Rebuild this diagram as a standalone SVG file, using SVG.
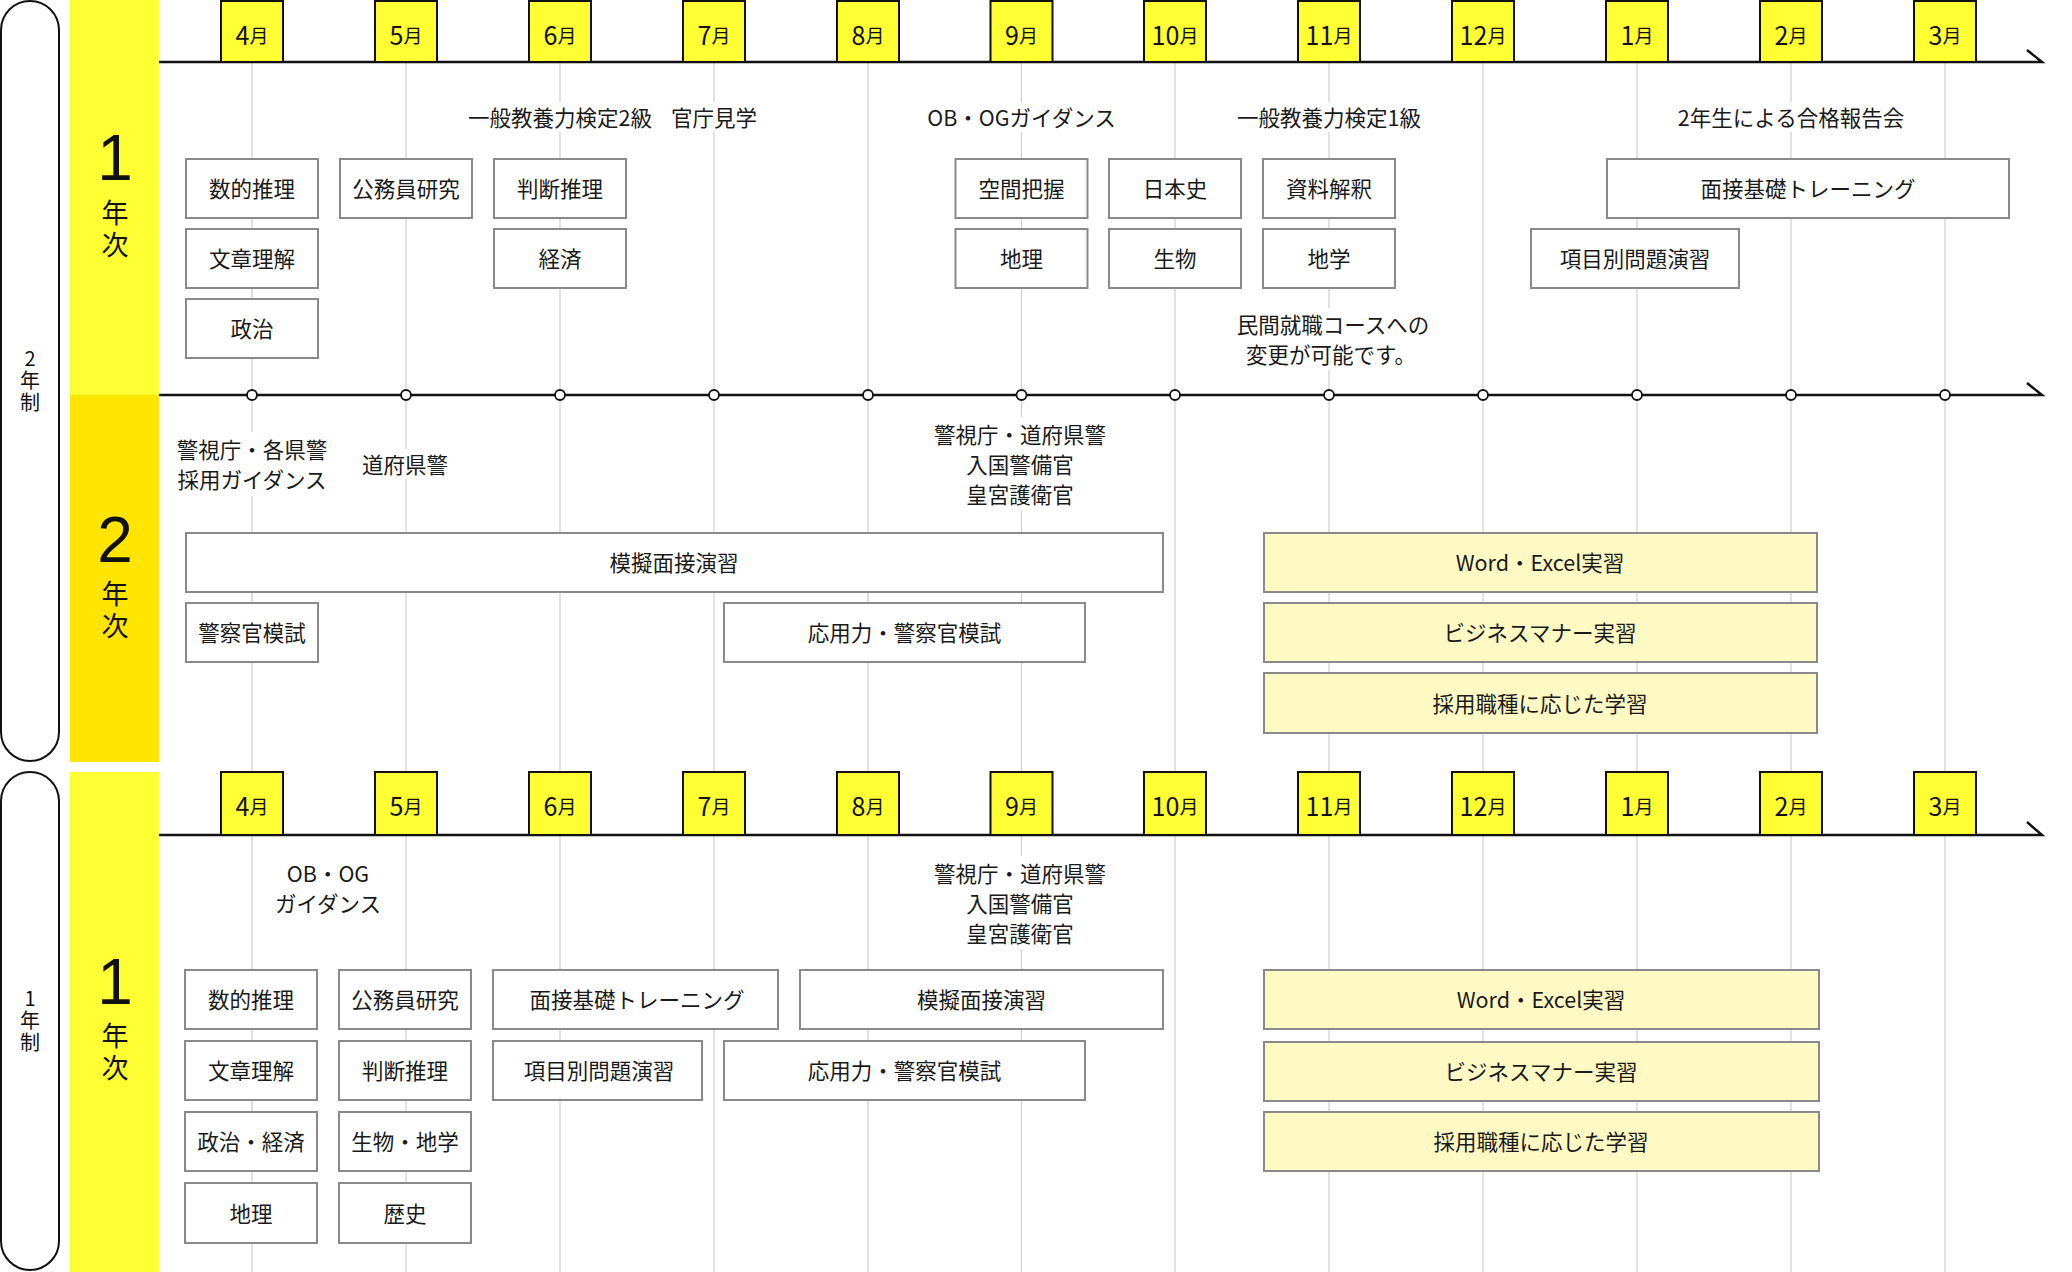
<svg xmlns="http://www.w3.org/2000/svg" width="2072" height="1272" viewBox="0 0 2072 1272">
<defs>
<style>
.grid{stroke:#cfcfcf;stroke-width:1.2}
.axis{stroke:#111;stroke-width:2.5;fill:none}
.mbox{fill:#FFFF33;stroke:#111;stroke-width:2}
.box{fill:#fff;stroke:#8a8a8a;stroke-width:2}
.pbox{fill:#FFFAC4;stroke:#8a8a8a;stroke-width:2}
.bg{fill:#fff}
.dot{fill:#fff;stroke:#111;stroke-width:1.8}
.pill{fill:#fff;stroke:#111;stroke-width:2}
.t{font-family:"Noto Sans CJK JP","Noto Sans CJK SC",sans-serif;font-size:21.5px;fill:#1a1a1a;text-anchor:middle;dominant-baseline:central}
.m{font-family:"Noto Sans CJK JP",sans-serif;fill:#111;text-anchor:middle;dominant-baseline:central}
.d{font-size:25px}
.u{font-size:19px}
.big{font-family:"Liberation Sans",Arial,sans-serif;font-size:64px;fill:#111;text-anchor:middle;dominant-baseline:central}
.yr{font-family:"Noto Sans CJK JP",sans-serif;font-size:27px;fill:#111;text-anchor:middle;writing-mode:vertical-rl;text-orientation:upright;letter-spacing:5px}
.pl{font-family:"Noto Sans CJK JP",sans-serif;font-size:20px;fill:#111;text-anchor:middle;writing-mode:vertical-rl;text-orientation:upright;letter-spacing:2px}
</style>
</defs>
<rect width="2072" height="1272" fill="#fff"/>

<!-- side pills and bands -->
<g id="pill-2nen">
<rect class="pill" x="1" y="1" width="58" height="760" rx="29" ry="29"/>
<text class="pl" x="30" y="381">2年制</text>
</g>
<g id="pill-1nen">
<rect class="pill" x="1" y="772" width="58" height="498" rx="29" ry="29"/>
<text class="pl" x="30" y="1021">1年制</text>
</g>
<g id="band-1">
<rect x="70" y="0" width="89" height="395" fill="#FFFF33"/>
<text class="big" x="115" y="158">1</text>
<text class="yr" x="115" y="231">年次</text>
</g>
<g id="band-2">
<rect x="70" y="395" width="89" height="367" fill="#FFE500"/>
<text class="big" x="115" y="540">2</text>
<text class="yr" x="115" y="612">年次</text>
</g>
<g id="band-3">
<rect x="70" y="772" width="89" height="500" fill="#FFFF33"/>
<text class="big" x="115" y="982">1</text>
<text class="yr" x="115" y="1054">年次</text>
</g>

<!-- gridlines -->
<g id="gridlines">
<line class="grid" x1="252" y1="0" x2="252" y2="1272"/>
<line class="grid" x1="406" y1="0" x2="406" y2="1272"/>
<line class="grid" x1="560" y1="0" x2="560" y2="1272"/>
<line class="grid" x1="714" y1="0" x2="714" y2="1272"/>
<line class="grid" x1="868" y1="0" x2="868" y2="1272"/>
<line class="grid" x1="1021.5" y1="0" x2="1021.5" y2="1272"/>
<line class="grid" x1="1175" y1="0" x2="1175" y2="1272"/>
<line class="grid" x1="1329" y1="0" x2="1329" y2="1272"/>
<line class="grid" x1="1483" y1="0" x2="1483" y2="1272"/>
<line class="grid" x1="1637" y1="0" x2="1637" y2="1272"/>
<line class="grid" x1="1791" y1="0" x2="1791" y2="1272"/>
<line class="grid" x1="1945" y1="0" x2="1945" y2="1272"/>
</g>

<!-- timelines (connectors) -->
<g id="connectors">
<path class="axis" d="M159 62 H2042 L2027 50"/>
<path class="axis" d="M159 395 H2042 L2027 383"/>
<path class="axis" d="M159 835 H2042 L2027 822"/>
<circle class="dot" cx="252" cy="395" r="5"/>
<circle class="dot" cx="406" cy="395" r="5"/>
<circle class="dot" cx="560" cy="395" r="5"/>
<circle class="dot" cx="714" cy="395" r="5"/>
<circle class="dot" cx="868" cy="395" r="5"/>
<circle class="dot" cx="1021.5" cy="395" r="5"/>
<circle class="dot" cx="1175" cy="395" r="5"/>
<circle class="dot" cx="1329" cy="395" r="5"/>
<circle class="dot" cx="1483" cy="395" r="5"/>
<circle class="dot" cx="1637" cy="395" r="5"/>
<circle class="dot" cx="1791" cy="395" r="5"/>
<circle class="dot" cx="1945" cy="395" r="5"/>
</g>

<!-- month markers top -->
<g id="months-top">
<rect class="mbox" x="221" y="1" width="62" height="61"/><text class="m" x="252" y="34"><tspan class="d">4</tspan><tspan class="u">月</tspan></text>
<rect class="mbox" x="375" y="1" width="62" height="61"/><text class="m" x="406" y="34"><tspan class="d">5</tspan><tspan class="u">月</tspan></text>
<rect class="mbox" x="529" y="1" width="62" height="61"/><text class="m" x="560" y="34"><tspan class="d">6</tspan><tspan class="u">月</tspan></text>
<rect class="mbox" x="683" y="1" width="62" height="61"/><text class="m" x="714" y="34"><tspan class="d">7</tspan><tspan class="u">月</tspan></text>
<rect class="mbox" x="837" y="1" width="62" height="61"/><text class="m" x="868" y="34"><tspan class="d">8</tspan><tspan class="u">月</tspan></text>
<rect class="mbox" x="990.5" y="1" width="62" height="61"/><text class="m" x="1021.5" y="34"><tspan class="d">9</tspan><tspan class="u">月</tspan></text>
<rect class="mbox" x="1144" y="1" width="62" height="61"/><text class="m" x="1175" y="34"><tspan class="d">10</tspan><tspan class="u">月</tspan></text>
<rect class="mbox" x="1298" y="1" width="62" height="61"/><text class="m" x="1329" y="34"><tspan class="d">11</tspan><tspan class="u">月</tspan></text>
<rect class="mbox" x="1452" y="1" width="62" height="61"/><text class="m" x="1483" y="34"><tspan class="d">12</tspan><tspan class="u">月</tspan></text>
<rect class="mbox" x="1606" y="1" width="62" height="61"/><text class="m" x="1637" y="34"><tspan class="d">1</tspan><tspan class="u">月</tspan></text>
<rect class="mbox" x="1760" y="1" width="62" height="61"/><text class="m" x="1791" y="34"><tspan class="d">2</tspan><tspan class="u">月</tspan></text>
<rect class="mbox" x="1914" y="1" width="62" height="61"/><text class="m" x="1945" y="34"><tspan class="d">3</tspan><tspan class="u">月</tspan></text>
</g>

<!-- month markers bottom -->
<g id="months-bottom">
<rect class="mbox" x="221" y="772" width="62" height="63"/><text class="m" x="252" y="805"><tspan class="d">4</tspan><tspan class="u">月</tspan></text>
<rect class="mbox" x="375" y="772" width="62" height="63"/><text class="m" x="406" y="805"><tspan class="d">5</tspan><tspan class="u">月</tspan></text>
<rect class="mbox" x="529" y="772" width="62" height="63"/><text class="m" x="560" y="805"><tspan class="d">6</tspan><tspan class="u">月</tspan></text>
<rect class="mbox" x="683" y="772" width="62" height="63"/><text class="m" x="714" y="805"><tspan class="d">7</tspan><tspan class="u">月</tspan></text>
<rect class="mbox" x="837" y="772" width="62" height="63"/><text class="m" x="868" y="805"><tspan class="d">8</tspan><tspan class="u">月</tspan></text>
<rect class="mbox" x="990.5" y="772" width="62" height="63"/><text class="m" x="1021.5" y="805"><tspan class="d">9</tspan><tspan class="u">月</tspan></text>
<rect class="mbox" x="1144" y="772" width="62" height="63"/><text class="m" x="1175" y="805"><tspan class="d">10</tspan><tspan class="u">月</tspan></text>
<rect class="mbox" x="1298" y="772" width="62" height="63"/><text class="m" x="1329" y="805"><tspan class="d">11</tspan><tspan class="u">月</tspan></text>
<rect class="mbox" x="1452" y="772" width="62" height="63"/><text class="m" x="1483" y="805"><tspan class="d">12</tspan><tspan class="u">月</tspan></text>
<rect class="mbox" x="1606" y="772" width="62" height="63"/><text class="m" x="1637" y="805"><tspan class="d">1</tspan><tspan class="u">月</tspan></text>
<rect class="mbox" x="1760" y="772" width="62" height="63"/><text class="m" x="1791" y="805"><tspan class="d">2</tspan><tspan class="u">月</tspan></text>
<rect class="mbox" x="1914" y="772" width="62" height="63"/><text class="m" x="1945" y="805"><tspan class="d">3</tspan><tspan class="u">月</tspan></text>
</g>

<!-- Section 1: 2-year course, 1st year -->
<g id="s1-label-kentei2"><rect class="bg" x="456" y="102" width="208" height="30"/><text class="t" x="560" y="116">一般教養力検定2級</text></g>
<g id="s1-label-kancho"><rect class="bg" x="666" y="102" width="96" height="30"/><text class="t" x="714" y="116">官庁見学</text></g>
<g id="s1-label-obog"><rect class="bg" x="920" y="102" width="204" height="30"/><text class="t" x="1021.5" y="116">OB・OGガイダンス</text></g>
<g id="s1-label-kentei1"><rect class="bg" x="1226" y="102" width="208" height="30"/><text class="t" x="1329" y="116">一般教養力検定1級</text></g>
<g id="s1-label-houkoku"><rect class="bg" x="1668" y="102" width="246" height="30"/><text class="t" x="1791" y="116">2年生による合格報告会</text></g>
<g id="s1-label-minkan"><rect class="bg" x="1226" y="308" width="212" height="62"/><text class="t" x="1333" y="323">民間就職コースへの</text><text class="t" x="1331" y="353">変更が可能です。</text></g>

<g id="s1-suteki"><rect class="box" x="186" y="159" width="132" height="59"/><text class="t" x="252" y="187.5">数的推理</text></g>
<g id="s1-koumuin"><rect class="box" x="340" y="159" width="132" height="59"/><text class="t" x="406" y="187.5">公務員研究</text></g>
<g id="s1-handan"><rect class="box" x="494" y="159" width="132" height="59"/><text class="t" x="560" y="187.5">判断推理</text></g>
<g id="s1-kukan"><rect class="box" x="955.5" y="159" width="132" height="59"/><text class="t" x="1021.5" y="187.5">空間把握</text></g>
<g id="s1-nihonshi"><rect class="box" x="1109" y="159" width="132" height="59"/><text class="t" x="1175" y="187.5">日本史</text></g>
<g id="s1-shiryo"><rect class="box" x="1263" y="159" width="132" height="59"/><text class="t" x="1329" y="187.5">資料解釈</text></g>
<g id="s1-mensetsu"><rect class="box" x="1607" y="159" width="402" height="59"/><text class="t" x="1808" y="187.5">面接基礎トレーニング</text></g>

<g id="s1-bunsho"><rect class="box" x="186" y="229" width="132" height="59"/><text class="t" x="252" y="257.5">文章理解</text></g>
<g id="s1-keizai"><rect class="box" x="494" y="229" width="132" height="59"/><text class="t" x="560" y="257.5">経済</text></g>
<g id="s1-chiri"><rect class="box" x="955.5" y="229" width="132" height="59"/><text class="t" x="1021.5" y="257.5">地理</text></g>
<g id="s1-seibutsu"><rect class="box" x="1109" y="229" width="132" height="59"/><text class="t" x="1175" y="257.5">生物</text></g>
<g id="s1-chigaku"><rect class="box" x="1263" y="229" width="132" height="59"/><text class="t" x="1329" y="257.5">地学</text></g>
<g id="s1-koumoku"><rect class="box" x="1531" y="229" width="208" height="59"/><text class="t" x="1635" y="257.5">項目別問題演習</text></g>

<g id="s1-seiji"><rect class="box" x="186" y="299" width="132" height="59"/><text class="t" x="252" y="327.5">政治</text></g>

<!-- Section 2: 2-year course, 2nd year -->
<g id="s2-label-guidance"><rect class="bg" x="170" y="432" width="164" height="64"/><text class="t" x="252" y="448">警視庁・各県警</text><text class="t" x="252" y="478">採用ガイダンス</text></g>
<g id="s2-label-dofuken"><rect class="bg" x="356" y="449" width="98" height="30"/><text class="t" x="405" y="463">道府県警</text></g>
<g id="s2-label-keishicho"><rect class="bg" x="926" y="417" width="190" height="94"/><text class="t" x="1020" y="433">警視庁・道府県警</text><text class="t" x="1020" y="463">入国警備官</text><text class="t" x="1020" y="493">皇宮護衛官</text></g>

<g id="s2-mogi"><rect class="box" x="186" y="533" width="977" height="59"/><text class="t" x="674" y="561.5">模擬面接演習</text></g>
<g id="s2-keisatsu"><rect class="box" x="186" y="603" width="132" height="59"/><text class="t" x="252" y="631.5">警察官模試</text></g>
<g id="s2-ouyou"><rect class="box" x="724" y="603" width="361" height="59"/><text class="t" x="904.5" y="631.5">応用力・警察官模試</text></g>
<g id="s2-word"><rect class="pbox" x="1264" y="533" width="553" height="59"/><text class="t" x="1540" y="561.5">Word・Excel実習</text></g>
<g id="s2-business"><rect class="pbox" x="1264" y="603" width="553" height="59"/><text class="t" x="1540" y="631.5">ビジネスマナー実習</text></g>
<g id="s2-saiyou"><rect class="pbox" x="1264" y="673" width="553" height="60"/><text class="t" x="1540" y="702">採用職種に応じた学習</text></g>

<!-- Section 3: 1-year course -->
<g id="s3-label-obog"><rect class="bg" x="276" y="857" width="106" height="62"/><text class="t" x="328" y="872">OB・OG</text><text class="t" x="328" y="902">ガイダンス</text></g>
<g id="s3-label-keishicho"><rect class="bg" x="926" y="856" width="190" height="94"/><text class="t" x="1020" y="872">警視庁・道府県警</text><text class="t" x="1020" y="902">入国警備官</text><text class="t" x="1020" y="932">皇宮護衛官</text></g>

<g id="s3-suteki"><rect class="box" x="185" y="970" width="132" height="59"/><text class="t" x="251" y="998.5">数的推理</text></g>
<g id="s3-koumuin"><rect class="box" x="339" y="970" width="132" height="59"/><text class="t" x="405" y="998.5">公務員研究</text></g>
<g id="s3-mensetsu"><rect class="box" x="493" y="970" width="285" height="59"/><text class="t" x="637" y="998.5">面接基礎トレーニング</text></g>
<g id="s3-mogi"><rect class="box" x="800" y="970" width="363" height="59"/><text class="t" x="981.5" y="998.5">模擬面接演習</text></g>
<g id="s3-word"><rect class="pbox" x="1264" y="970" width="555" height="59"/><text class="t" x="1541" y="998.5">Word・Excel実習</text></g>

<g id="s3-bunsho"><rect class="box" x="185" y="1041" width="132" height="59"/><text class="t" x="251" y="1069.5">文章理解</text></g>
<g id="s3-handan"><rect class="box" x="339" y="1041" width="132" height="59"/><text class="t" x="405" y="1069.5">判断推理</text></g>
<g id="s3-koumoku"><rect class="box" x="493" y="1041" width="209" height="59"/><text class="t" x="599" y="1069.5">項目別問題演習</text></g>
<g id="s3-ouyou"><rect class="box" x="724" y="1041" width="361" height="59"/><text class="t" x="904.5" y="1069.5">応用力・警察官模試</text></g>
<g id="s3-business"><rect class="pbox" x="1264" y="1042" width="555" height="59"/><text class="t" x="1541" y="1070.5">ビジネスマナー実習</text></g>

<g id="s3-seiji"><rect class="box" x="185" y="1112" width="132" height="59"/><text class="t" x="251" y="1140.5">政治・経済</text></g>
<g id="s3-seibutsu"><rect class="box" x="339" y="1112" width="132" height="59"/><text class="t" x="405" y="1140.5">生物・地学</text></g>
<g id="s3-saiyou"><rect class="pbox" x="1264" y="1112" width="555" height="59"/><text class="t" x="1541" y="1140.5">採用職種に応じた学習</text></g>

<g id="s3-chiri"><rect class="box" x="185" y="1183" width="132" height="60"/><text class="t" x="251" y="1212">地理</text></g>
<g id="s3-rekishi"><rect class="box" x="339" y="1183" width="132" height="60"/><text class="t" x="405" y="1212">歴史</text></g>
</svg>
